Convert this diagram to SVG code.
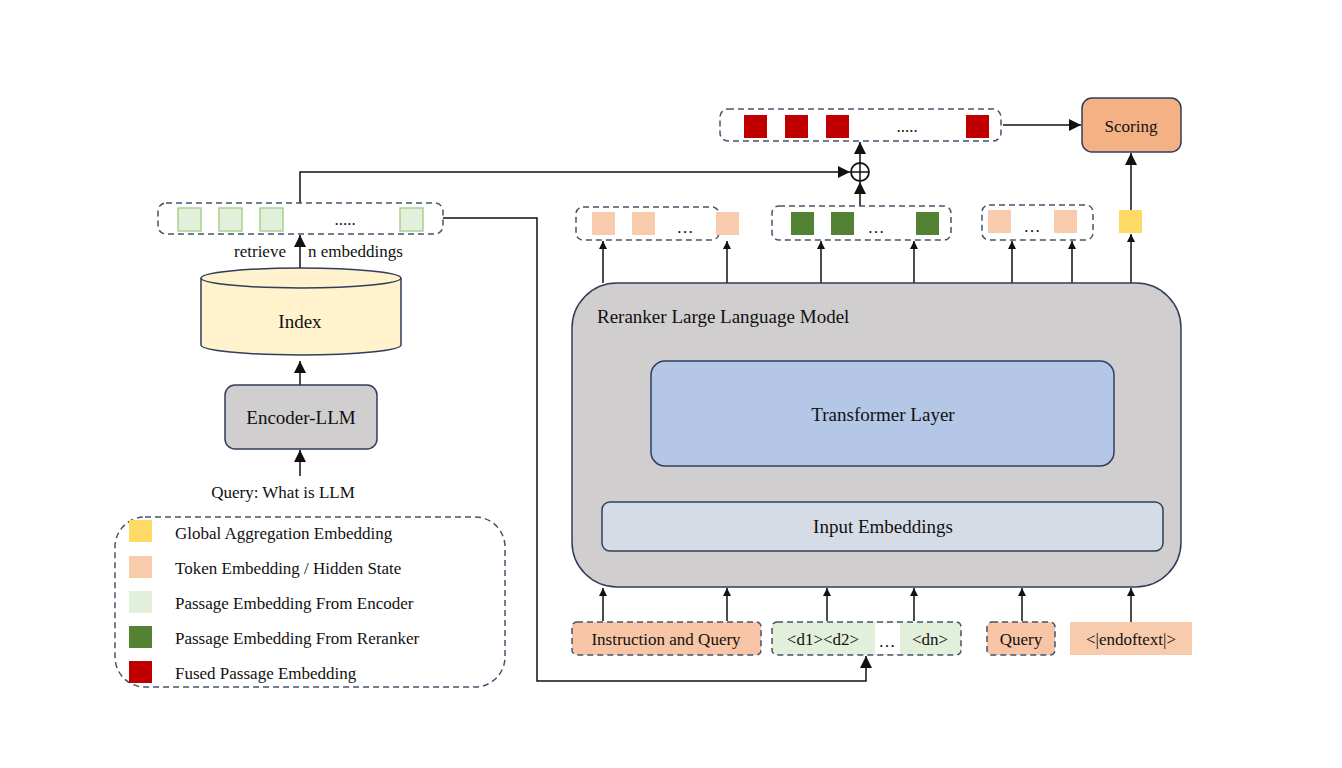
<svg xmlns="http://www.w3.org/2000/svg" width="1342" height="768" viewBox="0 0 1342 768">
<style>
text{font-family:"Liberation Serif","Times New Roman",serif;fill:#111}
.dash{fill:#fff;stroke:#44546a;stroke-width:1.5;stroke-dasharray:6,4}
.ln{stroke:#111;stroke-width:1.5;fill:none}
.pg{fill:#e2efda;stroke:#a9d18e;stroke-width:1.5}
.red{fill:#c00000}
.tok{fill:#f8cbad}
.dg{fill:#548235}
.gl{fill:#ffd966}
.t17{font-size:17px}
</style>
<defs>
<marker id="a" viewBox="0 0 10 10" refX="10" refY="5" markerWidth="8" markerHeight="8" markerUnits="userSpaceOnUse" orient="auto"><path d="M0,0L10,5L0,10z" fill="#111"/></marker>
<marker id="b" viewBox="0 0 10 10" refX="10" refY="5" markerWidth="12" markerHeight="12" markerUnits="userSpaceOnUse" orient="auto"><path d="M0,0L10,5L0,10z" fill="#111"/></marker>
</defs>
<rect width="1342" height="768" fill="#fff"/>
<g id="connectors">
<path class="ln" d="M300,203V172H850" marker-end="url(#b)"/>
<path class="ln" d="M443,218H537V681H866V656" marker-end="url(#b)"/>
<path class="ln" d="M860,163V142" marker-end="url(#b)"/>
<path class="ln" d="M860,207V182" marker-end="url(#b)"/>
<path class="ln" d="M1003,125H1081" marker-end="url(#b)"/>
<path class="ln" d="M1131,210V153" marker-end="url(#b)"/>
<path class="ln" d="M300,268V235" marker-end="url(#b)"/>
<path class="ln" d="M300,385V361" marker-end="url(#b)"/>
<path class="ln" d="M300,476V450" marker-end="url(#b)"/>
<path class="ln" d="M883,502V467" marker-end="url(#b)"/>
<g marker-end="url(#a)">
<path class="ln" d="M603,283V241"/><path class="ln" d="M727,283V241"/>
<path class="ln" d="M821,283V241"/><path class="ln" d="M914,283V241"/>
<path class="ln" d="M1012,283V241"/><path class="ln" d="M1072,283V241"/>
<path class="ln" d="M1131,283V234"/>
<path class="ln" d="M603,621V588"/><path class="ln" d="M727,621V588"/>
<path class="ln" d="M827,621V588"/><path class="ln" d="M914,621V588"/>
<path class="ln" d="M1022,621V588"/><path class="ln" d="M1131,627V588"/>
</g>
</g>
<g id="plus"><circle cx="860" cy="172" r="9" fill="#fff" stroke="#111" stroke-width="1.8"/><path class="ln" d="M851,172H869M860,163V181"/></g>
<g id="retrieved">
<rect class="dash" x="158" y="203" width="285" height="31" rx="8"/>
<rect class="pg" x="178" y="208" width="23" height="23"/><rect class="pg" x="219" y="208" width="23" height="23"/><rect class="pg" x="260" y="208" width="23" height="23"/><rect class="pg" x="400" y="208" width="23" height="23"/>
<text x="345" y="225" text-anchor="middle" font-size="17">.....</text>
<text x="260" y="257" text-anchor="middle" class="t17">retrieve</text>
<text x="308" y="257" class="t17">n embeddings</text>
</g>
<g id="fused">
<rect class="dash" x="720" y="109" width="281" height="32" rx="8"/>
<rect class="red" x="744" y="115" width="23" height="23"/><rect class="red" x="785" y="115" width="23" height="23"/><rect class="red" x="826" y="115" width="23" height="23"/><rect class="red" x="966" y="115" width="23" height="23"/>
<text x="907" y="132" text-anchor="middle" font-size="17">.....</text>
</g>
<g id="scoring"><rect x="1082" y="98" width="99" height="54" rx="10" fill="#f4b183" stroke="#2f3e5c" stroke-width="1.5"/><text x="1131" y="132" text-anchor="middle" class="t17">Scoring</text></g>
<g id="out1"><rect class="dash" x="576" y="207" width="143" height="33" rx="7"/>
<rect class="tok" x="592" y="212" width="23" height="23"/><rect class="tok" x="632" y="212" width="23" height="23"/><rect class="tok" x="716" y="212" width="23" height="23"/>
<text x="685" y="233" text-anchor="middle" font-size="17">…</text></g>
<g id="out2"><rect class="dash" x="772" y="206" width="179" height="34" rx="7"/>
<rect class="dg" x="791" y="212" width="23" height="23"/><rect class="dg" x="831" y="212" width="23" height="23"/><rect class="dg" x="916" y="212" width="23" height="23"/>
<text x="876" y="233" text-anchor="middle" font-size="17">…</text></g>
<g id="out3"><rect class="dash" x="982" y="205" width="111" height="35" rx="7"/>
<rect class="tok" x="988" y="210" width="23" height="23"/><rect class="tok" x="1054" y="210" width="23" height="23"/>
<text x="1032" y="232" text-anchor="middle" font-size="17">…</text></g>
<g id="global"><rect class="gl" x="1119" y="210" width="23" height="23"/></g>
<g id="reranker">
<rect x="572" y="283" width="609" height="304" rx="45" fill="#d0cece" stroke="#2f3e5c" stroke-width="1.5"/>
<text x="597" y="323" font-size="19">Reranker Large Language Model</text>
</g>
<g id="transformer"><rect x="651" y="361" width="463" height="105" rx="14" fill="#b4c7e7" stroke="#2f3e5c" stroke-width="1.5"/><text x="883" y="421" text-anchor="middle" font-size="19">Transformer Layer</text></g>
<g id="inputemb"><rect x="602" y="502" width="561" height="49" rx="8" fill="#d6dce5" stroke="#2f3e5c" stroke-width="1.5"/><text x="883" y="533" text-anchor="middle" font-size="19">Input Embeddings</text></g>
<g id="in1"><rect class="dash" x="572" y="622" width="189" height="33" rx="5" style="fill:#f8c6a6"/><text x="666" y="645" text-anchor="middle" class="t17">Instruction and Query</text></g>
<g id="in2"><rect class="dash" x="772" y="622" width="189" height="33" rx="5" style="fill:#e2efda"/><rect x="875" y="623" width="25" height="31" fill="#fff"/>
<text x="823" y="645" text-anchor="middle" class="t17">&lt;d1&gt;&lt;d2&gt;</text><text x="887" y="647" text-anchor="middle" class="t17">…</text><text x="930" y="645" text-anchor="middle" class="t17">&lt;dn&gt;</text></g>
<g id="in3"><rect class="dash" x="987" y="622" width="68" height="33" rx="5" style="fill:#f8c6a6"/><text x="1021" y="645" text-anchor="middle" class="t17">Query</text></g>
<g id="in4"><rect x="1070" y="622" width="122" height="33" fill="#f8cbad"/><text x="1131" y="645" text-anchor="middle" class="t17">&lt;|endoftext|&gt;</text></g>
<g id="index">
<path d="M201,278V345A100,10 0 0 0 401,345V278" fill="#fff2cc" stroke="#2f3e5c" stroke-width="1.5"/>
<ellipse cx="301" cy="278" rx="100" ry="10" fill="#fff2cc" stroke="#2f3e5c" stroke-width="1.5"/>
<text x="300" y="328" text-anchor="middle" font-size="19">Index</text>
</g>
<g id="encoder"><rect x="225" y="385" width="152" height="64" rx="10" fill="#d0cece" stroke="#2f3e5c" stroke-width="1.5"/><text x="301" y="424" text-anchor="middle" font-size="19">Encoder-LLM</text></g>
<g id="query"><text x="283" y="498" text-anchor="middle" class="t17">Query: What is LLM</text></g>
<g id="legend">
<rect class="dash" x="115" y="517" width="390" height="170" rx="30"/>
<rect class="gl" x="129" y="520" width="23" height="22"/><text x="175" y="539" class="t17">Global Aggregation Embedding</text>
<rect class="tok" x="129" y="556" width="23" height="22"/><text x="175" y="574" class="t17">Token Embedding / Hidden State</text>
<rect fill="#e2efda" x="129" y="591" width="23" height="22"/><text x="175" y="609" class="t17">Passage Embedding From Encoder</text>
<rect class="dg" x="129" y="626" width="23" height="22"/><text x="175" y="644" class="t17">Passage Embedding From Reranker</text>
<rect class="red" x="129" y="661" width="23" height="22"/><text x="175" y="679" class="t17">Fused Passage Embedding</text>
</g>
</svg>
